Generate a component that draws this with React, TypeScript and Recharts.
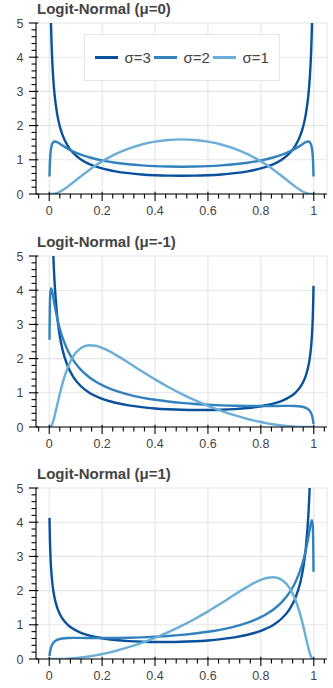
import { LineChart, Line, XAxis, YAxis, ReferenceLine } from "recharts";

const xs = [0.001, 0.002, 0.004, 0.007, 0.01, 0.015, 0.02, 0.03, 0.04, 0.05, 0.07, 0.09, 0.12, 0.15, 0.175, 0.2, 0.225, 0.25, 0.3, 0.35, 0.4, 0.45, 0.5, 0.55, 0.6, 0.65, 0.7, 0.75, 0.775, 0.8, 0.825, 0.85, 0.88, 0.91, 0.93, 0.95, 0.96, 0.97, 0.98, 0.985, 0.99, 0.993, 0.996, 0.998, 0.999];

// mu = 0
const mu0Sigma3 = [9.404, 7.808, 6.152, 4.892, 4.156, 3.402, 2.925, 2.335, 1.976, 1.729, 1.409, 1.206, 1.01, 0.882, 0.806, 0.747, 0.701, 0.663, 0.609, 0.572, 0.549, 0.536, 0.532, 0.536, 0.549, 0.572, 0.609, 0.663, 0.701, 0.747, 0.806, 0.882, 1.01, 1.206, 1.409, 1.729, 1.976, 2.335, 2.925, 3.402, 4.156, 4.892, 6.152, 7.808, 9.404];
const mu0Sigma2 = [0.514, 0.803, 1.115, 1.333, 1.439, 1.512, 1.533, 1.514, 1.47, 1.421, 1.328, 1.248, 1.15, 1.074, 1.023, 0.98, 0.945, 0.915, 0.868, 0.836, 0.814, 0.802, 0.798, 0.802, 0.814, 0.836, 0.868, 0.915, 0.945, 0.98, 1.023, 1.074, 1.15, 1.248, 1.328, 1.421, 1.47, 1.514, 1.533, 1.512, 1.439, 1.333, 1.115, 0.803, 0.514];
const mu0Sigma1 = [0, 0, 0, 0.0003, 0.001, 0.0043, 0.0105, 0.0326, 0.0666, 0.11, 0.216, 0.335, 0.519, 0.695, 0.831, 0.954, 1.065, 1.164, 1.327, 1.448, 1.531, 1.58, 1.596, 1.58, 1.531, 1.448, 1.327, 1.164, 1.065, 0.954, 0.831, 0.695, 0.519, 0.335, 0.216, 0.11, 0.0666, 0.0326, 0.0105, 0.0043, 0.001, 0.0003, 0, 0, 0];

// mu = -1
const muNeg1Sigma3 = [19.16, 14.73, 10.74, 8.023, 6.551, 5.123, 4.264, 3.25, 2.661, 2.269, 1.776, 1.475, 1.192, 1.012, 0.906, 0.824, 0.76, 0.709, 0.632, 0.58, 0.543, 0.519, 0.503, 0.496, 0.497, 0.505, 0.524, 0.555, 0.578, 0.606, 0.642, 0.688, 0.766, 0.882, 1.0, 1.179, 1.313, 1.501, 1.796, 2.022, 2.359, 2.668, 3.152, 3.702, 4.127];
const muNeg1Sigma2 = [2.548, 3.348, 3.906, 4.062, 4.005, 3.8, 3.578, 3.185, 2.871, 2.618, 2.237, 1.963, 1.67, 1.462, 1.33, 1.224, 1.136, 1.063, 0.947, 0.861, 0.795, 0.744, 0.704, 0.673, 0.649, 0.632, 0.62, 0.613, 0.612, 0.612, 0.613, 0.614, 0.617, 0.617, 0.614, 0.601, 0.586, 0.56, 0.511, 0.469, 0.403, 0.341, 0.248, 0.15, 0.081];
const muNeg1Sigma1 = [0, 0.0003, 0.0037, 0.023, 0.0629, 0.17, 0.311, 0.639, 0.969, 1.268, 1.74, 2.056, 2.309, 2.389, 2.375, 2.314, 2.225, 2.117, 1.878, 1.631, 1.393, 1.171, 0.968, 0.784, 0.619, 0.473, 0.345, 0.235, 0.188, 0.145, 0.107, 0.074, 0.043, 0.02, 0.0099, 0.0035, 0.0017, 0.0006, 0.0001, 0, 0, 0, 0, 0, 0];

// mu = 1
const mu1Sigma3 = [4.127, 3.702, 3.152, 2.668, 2.359, 2.022, 1.796, 1.501, 1.313, 1.179, 1.0, 0.882, 0.766, 0.688, 0.642, 0.606, 0.578, 0.555, 0.524, 0.505, 0.497, 0.496, 0.503, 0.519, 0.543, 0.58, 0.632, 0.709, 0.76, 0.824, 0.906, 1.012, 1.192, 1.475, 1.776, 2.269, 2.661, 3.25, 4.264, 5.123, 6.551, 8.023, 10.74, 14.73, 19.16];
const mu1Sigma2 = [0.081, 0.15, 0.248, 0.341, 0.403, 0.469, 0.511, 0.56, 0.586, 0.601, 0.614, 0.617, 0.617, 0.614, 0.613, 0.612, 0.612, 0.613, 0.62, 0.632, 0.649, 0.673, 0.704, 0.744, 0.795, 0.861, 0.947, 1.063, 1.136, 1.224, 1.33, 1.462, 1.67, 1.963, 2.237, 2.618, 2.871, 3.185, 3.578, 3.8, 4.005, 4.062, 3.906, 3.348, 2.548];
const mu1Sigma1 = [0, 0, 0, 0, 0, 0, 0.0001, 0.0006, 0.0017, 0.0035, 0.0099, 0.02, 0.043, 0.074, 0.107, 0.145, 0.188, 0.235, 0.345, 0.473, 0.619, 0.784, 0.968, 1.171, 1.393, 1.631, 1.878, 2.117, 2.225, 2.314, 2.375, 2.389, 2.309, 2.056, 1.74, 1.268, 0.969, 0.639, 0.311, 0.17, 0.0629, 0.023, 0.0037, 0.0003, 0];

const seriesKeys = ["s3", "s2", "s1"];
const seriesNames = ["σ=3", "σ=2", "σ=1"];
const seriesColors = ["#08519c", "#3182bd", "#6baed6"];
const panelTitles = ["Logit-Normal (μ=0)", "Logit-Normal (μ=-1)", "Logit-Normal (μ=1)"];

const xMajorTicks = [0, 0.2, 0.4, 0.6, 0.8, 1];
const xTickLabels = ["0", "0.2", "0.4", "0.6", "0.8", "1"];
const xMinorTicks = [-0.04, 0.04, 0.08, 0.12, 0.16, 0.24, 0.28, 0.32, 0.36, 0.44, 0.48, 0.52, 0.56, 0.64, 0.68, 0.72, 0.76, 0.84, 0.88, 0.92, 0.96, 1.04];
const yMajorTicks = [0, 1, 2, 3, 4, 5];
const yTickLabels = ["0", "1", "2", "3", "4", "5"];
const yMinorTicks = [0.2, 0.4, 0.6, 0.8, 1.2, 1.4, 1.6, 1.8, 2.2, 2.4, 2.6, 2.8, 3.2, 3.4, 3.6, 3.8, 4.2, 4.4, 4.6, 4.8];

const FONT = '"Liberation Sans", Arial, Helvetica, sans-serif';
const GRID = "#e5e5e5";
const TEXT = "#444444";

function rows(s3: number[], s2: number[], s1: number[]) {
  return xs.map((x, i) => ({ x, s3: s3[i], s2: s2[i], s1: s1[i] }));
}

const panels = [
  { title: panelTitles[0], data: rows(mu0Sigma3, mu0Sigma2, mu0Sigma1), top: 0, legend: true },
  { title: panelTitles[1], data: rows(muNeg1Sigma3, muNeg1Sigma2, muNeg1Sigma1), top: 233, legend: false },
  { title: panelTitles[2], data: rows(mu1Sigma3, mu1Sigma2, mu1Sigma1), top: 465, legend: false },
];

const majorIndex = (list: number[], v: number) => list.findIndex((t) => Math.abs(t - v) < 1e-9);

function XTick(props: any) {
  const { x, y, payload } = props;
  const i = majorIndex(xMajorTicks, payload.value);
  if (i < 0) return <line x1={x} x2={x} y1={y} y2={y + 4.5} stroke="#000" strokeWidth={1.1} />;
  return (
    <g>
      <line x1={x} x2={x} y1={y - 2.3} y2={y + 7} stroke="#000" strokeWidth={1.1} />
      <text x={x} y={y + 21} textAnchor="middle" fill={TEXT} fontSize={12.5} fontFamily={FONT}>
        {xTickLabels[i]}
      </text>
    </g>
  );
}

function YTick(props: any) {
  const { x, y, payload } = props;
  const i = majorIndex(yMajorTicks, payload.value);
  if (i < 0) return <line x1={x - 4.5} x2={x} y1={y} y2={y} stroke="#000" strokeWidth={1.1} />;
  return (
    <g>
      <line x1={x - 7} x2={x + 2.3} y1={y} y2={y} stroke="#000" strokeWidth={1.1} />
      <text x={x - 12.5} y={y + 4.5} textAnchor="end" fill={TEXT} fontSize={12.5} fontFamily={FONT}>
        {yTickLabels[i]}
      </text>
    </g>
  );
}

function LegendBox() {
  return (
    <div
      style={{
        position: "absolute",
        left: 84,
        top: 34,
        width: 196,
        height: 47,
        boxSizing: "border-box",
        background: "rgba(255,255,255,0.95)",
        border: `1px solid ${GRID}`,
        display: "flex",
        alignItems: "center",
        paddingLeft: 10,
        fontFamily: FONT,
        fontSize: 15,
        color: TEXT,
      }}
    >
      {seriesNames.map((name, i) => (
        <div key={name} style={{ width: 59, display: "flex", alignItems: "center", flexShrink: 0 }}>
          <div style={{ width: 23, height: 2.5, background: seriesColors[i], flexShrink: 0 }} />
          <span style={{ marginLeft: 6.5, whiteSpace: "nowrap" }}>{name}</span>
        </div>
      ))}
    </div>
  );
}

export default function App() {
  return (
    <div style={{ position: "absolute", left: 0, top: 0, width: 333, height: 688, background: "#fff" }}>
      {panels.map((p) => (
        <div key={p.title} style={{ position: "absolute", left: 0, top: p.top, width: 333, height: 223 }}>
          <LineChart width={333} height={223} data={p.data} margin={{ top: 23, right: 6, bottom: 0, left: 0 }}>
            {xMajorTicks.map((v) => (
              <ReferenceLine key={"gx" + v} x={v} stroke={GRID} strokeWidth={1.1} />
            ))}
            {yMajorTicks.map((v) => (
              <ReferenceLine key={"gy" + v} y={v} stroke={GRID} strokeWidth={1.1} />
            ))}
            <ReferenceLine x={1.05} stroke={GRID} strokeWidth={1.1} />
            <XAxis
              dataKey="x"
              type="number"
              domain={[-0.05, 1.05]}
              ticks={[...xMinorTicks, ...xMajorTicks]}
              interval={0}
              allowDataOverflow
              height={29}
              tickSize={0}
              tickMargin={0}
              tickLine={false}
              axisLine={{ stroke: "#000", strokeWidth: 1.1 }}
              tick={<XTick />}
            />
            <YAxis
              type="number"
              domain={[0, 5]}
              ticks={[...yMinorTicks, ...yMajorTicks]}
              interval={0}
              allowDataOverflow
              width={36}
              tickSize={0}
              tickMargin={0}
              tickLine={false}
              axisLine={{ stroke: "#000", strokeWidth: 1.1 }}
              tick={<YTick />}
            />
            {seriesKeys.map((k, i) => (
              <Line
                key={k}
                dataKey={k}
                name={seriesNames[i]}
                type="monotone"
                stroke={seriesColors[i]}
                strokeWidth={2.4}
                dot={false}
                activeDot={false}
                isAnimationActive={false}
              />
            ))}
          </LineChart>
          <div
            style={{
              position: "absolute",
              left: 37,
              top: 1,
              fontFamily: FONT,
              fontSize: 15,
              lineHeight: "15px",
              fontWeight: "bold",
              color: TEXT,
              whiteSpace: "nowrap",
            }}
          >
            {p.title}
          </div>
          {p.legend && <LegendBox />}
        </div>
      ))}
    </div>
  );
}
